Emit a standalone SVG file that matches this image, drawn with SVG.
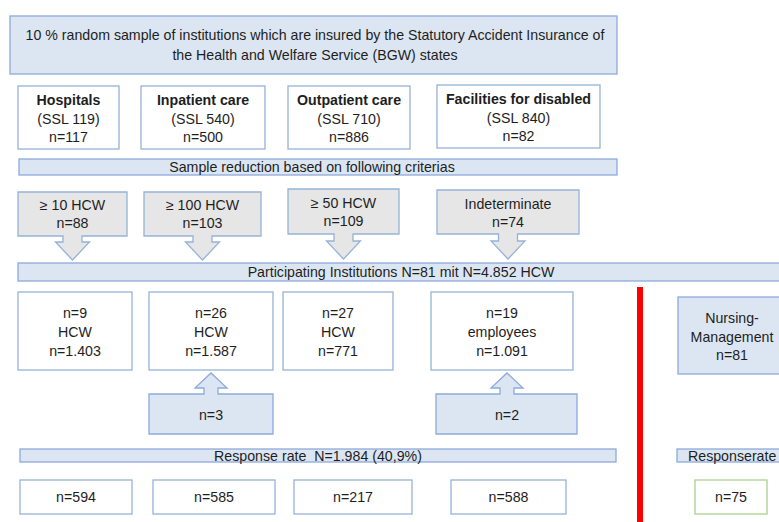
<svg xmlns="http://www.w3.org/2000/svg" width="779" height="522" viewBox="0 0 779 522">
<style>
text{font-family:"Liberation Sans",Arial,sans-serif;font-size:14.2px;fill:#1e1e1e;text-anchor:middle;dominant-baseline:central}
.b{font-weight:bold}
.w{fill:#fff;stroke:#95b3d7;stroke-width:1.3}
.bl{fill:#dce6f2;stroke:#8eaadb;stroke-width:1.3}
.g{fill:#e6e6e6;stroke:#95b3d7;stroke-width:1.3}
.gr{fill:#fff;stroke:#a9d18e;stroke-width:1.3}
.st{text-anchor:start}
</style>
<rect width="779" height="522" fill="#fff"/>
<g id="top"><rect class="bl" x="10" y="16" width="607" height="58"/>
<text x="315" y="35">10 % random sample of institutions which are insured by the Statutory Accident Insurance of</text>
<text x="315" y="55">the Health and Welfare Service (BGW) states</text></g>
<g id="hospitals"><rect class="w" x="18" y="86" width="101" height="63"/>
<text class="b" x="68.5" y="100">Hospitals</text><text x="68.5" y="119">(SSL 119)</text><text x="68.5" y="137">n=117</text></g>
<g id="inpatient"><rect class="w" x="141" y="86" width="124" height="63"/>
<text class="b" x="203" y="100">Inpatient care</text><text x="203" y="119">(SSL 540)</text><text x="203" y="137">n=500</text></g>
<g id="outpatient"><rect class="w" x="288" y="86" width="122" height="63"/>
<text class="b" x="349" y="100">Outpatient care</text><text x="349" y="119">(SSL 710)</text><text x="349" y="137">n=886</text></g>
<g id="disabled"><rect class="w" x="437" y="85" width="163" height="63"/>
<text class="b" x="518.5" y="99">Facilities for disabled</text><text x="518.5" y="118">(SSL 840)</text><text x="518.5" y="136">n=82</text></g>
<g id="reduction"><rect class="bl" x="19" y="159" width="598" height="16"/>
<text x="312" y="167">Sample reduction based on following criterias</text></g>
<g id="c10"><path class="g" d="M18,192 H127 V236 H82 V242 H89.5 L72.5,260 L55.5,242 H63 V236 H18 Z"/>
<text x="72.5" y="205">≥ 10 HCW</text><text x="72.5" y="223">n=88</text></g>
<g id="c100"><path class="g" d="M144,192 H261 V236 H212 V242 H219.5 L202.5,260 L185.5,242 H193 V236 H144 Z"/>
<text x="202.5" y="205">≥ 100 HCW</text><text x="202.5" y="223">n=103</text></g>
<g id="c50"><path class="g" d="M288,189 H399 V234 H353 V241 H360.5 L343.5,259 L326.5,241 H334 V234 H288 Z"/>
<text x="343.5" y="203">≥ 50 HCW</text><text x="343.5" y="221">n=109</text></g>
<g id="cind"><path class="g" d="M437,190 H579 V234 H517.5 V241 H525 L508,259 L491,241 H498.5 V234 H437 Z"/>
<text x="508" y="204">Indeterminate</text><text x="508" y="222">n=74</text></g>
<g id="participating"><rect class="bl" x="18" y="263" width="770" height="18"/>
<text x="401" y="272">Participating Institutions N=81 mit N=4.852 HCW</text></g>
<g id="r9"><rect class="w" x="18" y="292" width="114" height="78"/>
<text x="75" y="313">n=9</text><text x="75" y="332">HCW</text><text x="75" y="351">n=1.403</text></g>
<g id="r26"><rect class="w" x="149" y="292" width="124" height="78"/>
<text x="211" y="313">n=26</text><text x="211" y="332">HCW</text><text x="211" y="351">n=1.587</text></g>
<g id="r27"><rect class="w" x="283" y="292" width="110" height="78"/>
<text x="338" y="313">n=27</text><text x="338" y="332">HCW</text><text x="338" y="351">n=771</text></g>
<g id="r19"><rect class="w" x="431" y="292" width="142" height="78"/>
<text x="502" y="313">n=19</text><text x="502" y="332">employees</text><text x="502" y="351">n=1.091</text></g>
<g id="add3"><path class="bl" d="M149,394 H204 V388 H195 L211,373 L227,388 H218 V394 H273 V434 H149 Z"/>
<text x="211" y="415">n=3</text></g>
<g id="add2"><path class="bl" d="M436,394 H500 V388 H491 L507,373 L523,388 H514 V394 H577 V434 H436 Z"/>
<text x="507" y="415">n=2</text></g>
<g id="nursing"><rect class="bl" x="678" y="297" width="110" height="77"/>
<text x="732" y="318">Nursing-</text><text x="732" y="337">Management</text><text x="732" y="355">n=81</text></g>
<g id="connectors"><line x1="640" y1="287" x2="640" y2="522" stroke="#f00" stroke-width="6"/></g>
<g id="response"><rect class="bl" x="20" y="449" width="596" height="13"/>
<text x="318" y="455.5">Response rate&#160; N=1.984 (40,9%)</text></g>
<g id="responserate"><rect class="bl" x="677" y="449" width="111" height="13"/>
<text class="st" x="688" y="455.5">Responserate</text></g>
<g id="o594"><rect class="w" x="20" y="480" width="112" height="34"/><text x="76" y="497">n=594</text></g>
<g id="o585"><rect class="w" x="153" y="480" width="122" height="34"/><text x="214" y="497">n=585</text></g>
<g id="o217"><rect class="w" x="294" y="480" width="118" height="34"/><text x="353" y="497">n=217</text></g>
<g id="o588"><rect class="w" x="451" y="480" width="115" height="34"/><text x="508.5" y="497">n=588</text></g>
<g id="o75"><rect class="gr" x="695" y="480" width="72" height="34"/><text x="731" y="497">n=75</text></g>
</svg>
